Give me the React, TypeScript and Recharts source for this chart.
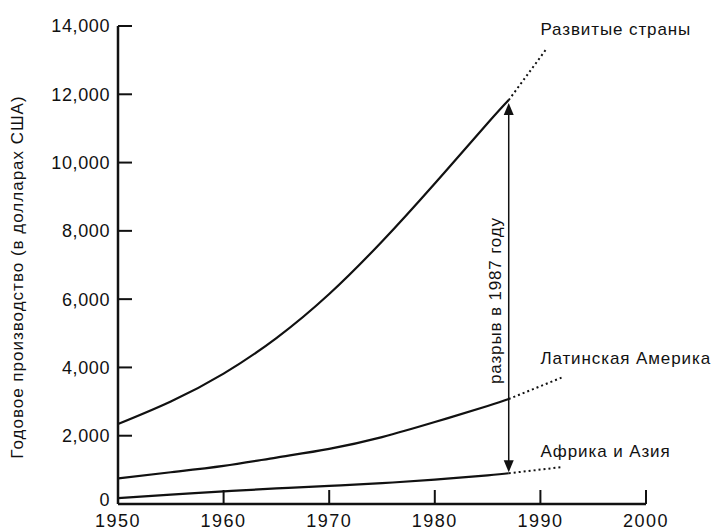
import { Label, Line, LineChart, ReferenceDot, ReferenceLine, XAxis, YAxis } from "recharts";

const INK = "#111";
const FONT = "'Liberation Sans', Arial, sans-serif";

// year -> annual output per capita, USD
const developed = [
  { year: 1950, value: 2340 },
  { year: 1955, value: 3000 },
  { year: 1960, value: 3820 },
  { year: 1965, value: 4860 },
  { year: 1970, value: 6150 },
  { year: 1975, value: 7690 },
  { year: 1980, value: 9390 },
  { year: 1985, value: 11150 },
  { year: 1987, value: 11830 },
];
const developedProjection = [
  { year: 1987, value: 11830 },
  { year: 1990.5, value: 13300 },
];

const latinAmerica = [
  { year: 1950, value: 750 },
  { year: 1955, value: 930 },
  { year: 1960, value: 1115 },
  { year: 1965, value: 1360 },
  { year: 1970, value: 1615 },
  { year: 1975, value: 1960 },
  { year: 1980, value: 2400 },
  { year: 1985, value: 2870 },
  { year: 1987, value: 3075 },
];
const latinAmericaProjection = [
  { year: 1987, value: 3075 },
  { year: 1992, value: 3700 },
];

const africaAsia = [
  { year: 1950, value: 170 },
  { year: 1955, value: 275 },
  { year: 1960, value: 370 },
  { year: 1965, value: 455 },
  { year: 1970, value: 530 },
  { year: 1975, value: 610 },
  { year: 1980, value: 715 },
  { year: 1985, value: 840 },
  { year: 1987, value: 900 },
];
const africaAsiaProjection = [
  { year: 1987, value: 900 },
  { year: 1992, value: 1080 },
];

const xTicks = [1950, 1960, 1970, 1980, 1990, 2000];
const yTicks = [0, 2000, 4000, 6000, 8000, 10000, 12000, 14000];

const gapYear = 1987;
const gapTop = 11830;
const gapBottom = 900;

const seriesLabels = [
  { text: "Развитые страны", year: 1990, value: 13900 },
  { text: "Латинская Америка", year: 1990, value: 4280 },
  { text: "Африка и Азия", year: 1990, value: 1560 },
];

const fmt = (v: number) => v.toLocaleString("en-US");

function YTick({ x, y, payload }: any) {
  return (
    <g>
      <line x1={x} x2={x + 14} y1={y} y2={y} stroke={INK} strokeWidth={2} />
      <text
        x={x - 8}
        y={y - (payload.value === 0 ? 4 : 0)}
        dy="0.36em"
        textAnchor="end"
        fill={INK}
        fontSize={18}
        fontFamily={FONT}
        letterSpacing={0.6}
      >
        {fmt(payload.value)}
      </text>
    </g>
  );
}

function XTick({ x, y, payload }: any) {
  return (
    <g>
      {payload.value !== 1950 && <line x1={x} x2={x} y1={y} y2={y - 14} stroke={INK} strokeWidth={2} />}
      <text x={x} y={y + 23} textAnchor="middle" fill={INK} fontSize={18} fontFamily={FONT} letterSpacing={1.5}>
        {payload.value}
      </text>
    </g>
  );
}

function YTitle({ viewBox }: any) {
  const cx = 17;
  const cy = viewBox.y + viewBox.height / 2 + 12;
  return (
    <text
      x={cx}
      y={cy}
      transform={`rotate(-90, ${cx}, ${cy})`}
      textAnchor="middle"
      dominantBaseline="central"
      fill={INK}
      fontSize={17}
      fontFamily={FONT}
      letterSpacing={1}
    >
      Годовое производство (в долларах США)
    </text>
  );
}

function GapArrow({ x1, y1, y2 }: any) {
  const top = Math.min(y1, y2);
  const bottom = Math.max(y1, y2);
  return (
    <g>
      <line x1={x1} x2={x1} y1={top + 8} y2={bottom - 8} stroke={INK} strokeWidth={1.5} />
      <polygon points={`${x1},${top + 3} ${x1 - 5},${top + 15} ${x1 + 5},${top + 15}`} fill={INK} />
      <polygon points={`${x1},${bottom - 1} ${x1 - 5},${bottom - 13} ${x1 + 5},${bottom - 13}`} fill={INK} />
    </g>
  );
}

export default function App() {
  return (
    <div style={{ position: "fixed", left: 0, top: 0, background: "#fff" }}>
      <LineChart width={712} height={532} margin={{ top: 26, right: 66, bottom: 0, left: 8 }}>
        <XAxis
          type="number"
          dataKey="year"
          domain={[1950, 2000]}
          ticks={xTicks}
          allowDuplicatedCategory={false}
          height={28}
          stroke={INK}
          strokeWidth={2.5}
          tickLine={false}
          tickSize={0}
          tickMargin={0}
          tick={<XTick />}
        />
        <YAxis
          type="number"
          domain={[0, 14000]}
          ticks={yTicks}
          width={110}
          stroke={INK}
          strokeWidth={2.5}
          tickLine={false}
          tickSize={0}
          tickMargin={0}
          tick={<YTick />}
          label={<YTitle />}
        />

        <Line data={developed} dataKey="value" type="natural" stroke={INK} strokeWidth={2.2} dot={false} isAnimationActive={false} />
        <Line data={latinAmerica} dataKey="value" type="natural" stroke={INK} strokeWidth={2.2} dot={false} isAnimationActive={false} />
        <Line data={africaAsia} dataKey="value" type="natural" stroke={INK} strokeWidth={2.2} dot={false} isAnimationActive={false} />
        <Line data={developedProjection} dataKey="value" type="linear" stroke={INK} strokeWidth={2} strokeDasharray="2 3" dot={false} isAnimationActive={false} />
        <Line data={latinAmericaProjection} dataKey="value" type="linear" stroke={INK} strokeWidth={2} strokeDasharray="2 3" dot={false} isAnimationActive={false} />
        <Line data={africaAsiaProjection} dataKey="value" type="linear" stroke={INK} strokeWidth={2} strokeDasharray="2 3" dot={false} isAnimationActive={false} />

        <ReferenceLine
          segment={[
            { x: gapYear, y: gapTop },
            { x: gapYear, y: gapBottom },
          ]}
          stroke={INK}
          shape={<GapArrow />}
        />
        <ReferenceDot x={1985.7} y={5960} r={0} stroke="none" fill="none">
          <Label value="разрыв в 1987 году" position="center" angle={-90} fill={INK} fontSize={17} fontFamily={FONT} letterSpacing={0.85} />
        </ReferenceDot>

        {seriesLabels.map((s) => (
          <ReferenceDot key={s.text} x={s.year} y={s.value} r={0} stroke="none" fill="none">
            <Label value={s.text} position="right" offset={0} fill={INK} fontSize={17} fontFamily={FONT} letterSpacing={0.9} />
          </ReferenceDot>
        ))}
      </LineChart>
    </div>
  );
}
